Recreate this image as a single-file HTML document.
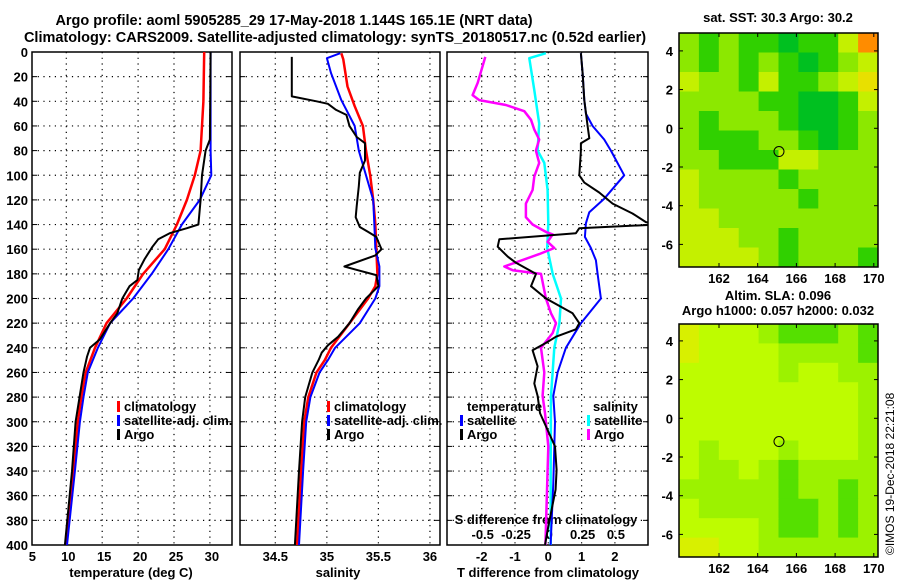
<!DOCTYPE html>
<html><head><meta charset="utf-8"><title>Argo profile</title>
<style>
html,body{margin:0;padding:0;background:#fff;}
svg{display:block;font-family:"Liberation Sans",Arial,sans-serif;font-weight:bold;}
text{font-size:13px;fill:#000;}
</style></head>
<body>
<svg id="chart" width="900" height="580" viewBox="0 0 900 580" xmlns="http://www.w3.org/2000/svg">
<text x="294" y="25" text-anchor="middle" style="font-size:14.5px">Argo profile: aoml 5905285_29 17-May-2018 1.144S 165.1E (NRT data)</text>
<text x="335" y="42" text-anchor="middle" style="font-size:14.5px">Climatology: CARS2009. Satellite-adjusted climatology: synTS_20180517.nc (0.52d earlier)</text>
<text x="778" y="22" text-anchor="middle">sat. SST: 30.3 Argo: 30.2</text>
<text x="778" y="300" text-anchor="middle">Altim. SLA: 0.096</text>
<text x="778" y="315" text-anchor="middle">Argo h1000: 0.057 h2000: 0.032</text>
<text transform="translate(894,555) rotate(-90)" style="font-weight:normal;font-size:12px">©IMOS 19-Dec-2018 22:21:08</text>
<g id="layer"></g>
</svg>
<script>
// ---- temperature panel data ----
const tDepthClim = [0,40,80,100,120,140,160,180,200,220,240,260,280,300,340,400];
const tClim      = [29.2,29.1,28.7,27.9,26.8,25.4,23.7,20.7,18.4,15.6,14.0,12.7,12.1,11.6,11.0,10.0];
const tDepthSat  = [0,80,100,120,140,160,180,200,220,240,260,280,300,340,400];
const tSat       = [30.1,30.1,30.2,28.6,26.1,24.2,21.9,19.3,16.1,14.4,13.0,12.4,11.9,11.2,10.1];
const tDepthArgo = [0,71,80,100,120,140,143,147,152,158,168,177,185,190,200,212,220,233,240,247,260,300,340,400];
const tArgo      = [30.1,30.0,29.4,28.9,28.7,28.4,26.8,24.4,22.8,22.0,20.9,20.1,19.9,18.8,17.8,17.1,16.1,14.7,13.3,12.9,12.4,11.3,10.8,9.8];
// ---- salinity panel data ----
const sDepthClim = [1,6,28,44,60,80,100,120,139,159,180,190,200,220,240,250,260,280,300,340,400];
const sClim      = [35.14,35.16,35.20,35.27,35.35,35.38,35.42,35.45,35.47,35.48,35.49,35.47,35.40,35.22,35.04,34.98,34.90,34.82,34.78,34.75,34.71];
const sDepthSat  = [1,5,17,39,60,80,100,120,139,159,174,190,200,220,240,250,260,280,300,340,400];
const sSat       = [35.13,35.00,35.04,35.14,35.27,35.31,35.38,35.45,35.46,35.47,35.51,35.51,35.47,35.32,35.08,35.01,34.93,34.84,34.80,34.77,34.73];
const sDepthArgo = [4,36,40,42,47,51,60,69,74,88,98,109,125,134,142,146,150,160,165,174,177,181,190,200,209,220,231,238,244,250,260,280,300,340,400];
const sArgo      = [34.66,34.66,34.90,35.01,35.09,35.19,35.22,35.29,35.37,35.37,35.32,35.31,35.29,35.28,35.32,35.40,35.48,35.53,35.47,35.17,35.30,35.48,35.50,35.38,35.30,35.22,35.11,35.01,34.95,34.92,34.86,34.79,34.76,34.73,34.69];
// ---- difference panel data (T diff in deg C; S diff values in psu) ----
const dDepthTSat = [1,17,39,50,60,71,80,100,119,130,139,150,159,169,180,200,220,240,260,279,300,350,400];
const dTSat      = [0.98,1.03,1.08,1.13,1.33,1.68,1.88,2.28,1.68,1.23,1.13,1.10,1.28,1.43,1.48,1.58,0.98,0.53,0.28,0.15,0.20,0.15,0.07];
const dDepthTArgo = [1,17,39,60,70,74,80,100,106,114,123,131,138,140,143,147,152,158,166,171,180,190,200,212,220,225,231,236,242,255,269,279,293,320,339,355,385,400];
const dTArgo      = [0.98,1.03,1.08,1.18,1.23,0.98,0.98,0.93,1.08,1.53,1.93,2.53,2.93,3.3,0.93,0.83,-1.47,-1.52,-1.22,-0.97,-0.37,-0.52,-0.07,0.73,0.93,0.83,0.23,-0.07,-0.47,-0.32,-0.42,-0.32,-0.25,0.20,0.25,0.22,0.0,-0.1];
const dDepthSSat = [1,5,31,58,80,90,112,139,159,180,200,220,240,279,330,400];
const dSSat      = [-0.018,-0.143,-0.105,-0.068,-0.080,-0.030,-0.005,0.0,-0.008,0.033,0.095,0.083,0.045,0.020,0.018,0.018];
const dDepthSArgo = [4,25,35,39,43,48,55,63,71,80,90,101,112,123,134,140,146,148,154,159,164,174,177,180,200,212,220,228,240,260,279,293,320,400];
const dSArgo      = [-0.473,-0.530,-0.568,-0.518,-0.318,-0.180,-0.130,-0.105,-0.068,-0.093,-0.068,-0.105,-0.118,-0.168,-0.168,-0.118,-0.018,0.033,-0.005,0.045,-0.068,-0.330,-0.268,-0.055,-0.018,0.020,0.058,0.033,-0.055,-0.030,-0.043,-0.025,0.0,-0.022];
// ---- tick labels ----
const depthTicks = [0,20,40,60,80,100,120,140,160,180,200,220,240,260,280,300,320,340,360,380,400];
const tempTicks = [5,10,15,20,25,30];
const salTicks = [34.5,35,35.5,36];
const salTickLabels = ["34.5","35","35.5","36"];
const tdiffTicks = [-2,-1,0,1,2];
const sdiffTicks = [-0.5,-0.25,0,0.25,0.5];
const sdiffTickLabels = ["-0.5","-0.25","0","0.25","0.5"];
const lonTicks = [162,164,166,168,170];
const latTicks = [4,2,0,-2,-4,-6];
const argoLon = 165.1, argoLat = -1.2;
// ---- map level grids (10 cols x 12 rows, lon 160.2-170.2, lat 4.9 to -7.2) ----
const sstLevels = [
 "2121101135","2121210123","3221311234","2222110013","2122210012","2111221012",
 "2211133222","3222212222","3222221222","3322222222","3332212222","3333212221"];
const slaLevels = [
 "4333211121","4333322221","3333323322","3333333332","3333333332","3333333332",
 "3233323332","3223212222","2222212212","3222211212","3333211212","4433222222"];
const sstColors = ["#00c020","#30d000","#8ce800","#c4f000","#e8e000","#ff8c00"];
const slaColors = ["#10d000","#55e000","#9cf200","#befc00","#d8f000"];

const NS="http://www.w3.org/2000/svg";
const layer=document.getElementById('layer');
function mk(tag,attrs,parent){const e=document.createElementNS(NS,tag);for(const k in attrs)e.setAttribute(k,attrs[k]);(parent||layer).appendChild(e);return e;}
const Y0=52, Y1=545;
function yDepth(d){return Y0+(d/400)*(Y1-Y0);}
const xTemp=v=>30.4+(v-5)*7.18;
const xSal=v=>275.3+(v-34.5)*103.1;
const xTd=v=>548.3+v*33.3;
const xSd=v=>548.3+v*4*33.3;
const panels=[{x0:32,x1:232,name:'temperature-panel'},{x0:240,x1:440,name:'salinity-panel'},{x0:447,x1:648,name:'difference-panel'}];

const defs=mk('defs',{});
panels.forEach((p,i)=>{const c=mk('clipPath',{id:'clip'+i},defs);mk('rect',{x:p.x0,y:Y0,width:p.x1-p.x0,height:Y1-Y0},c);});

function grid(p,xs,g){
  depthTicks.forEach(d=>{if(d>0&&d<400){const l=mk('line',{x1:p.x0,x2:p.x1,y1:yDepth(d),y2:yDepth(d),stroke:'#000','stroke-width':1.2,'stroke-dasharray':'1.2,4.5'},g);
    }
    mk('line',{x1:p.x0,x2:p.x0+5,y1:yDepth(d),y2:yDepth(d),stroke:'#000'},g);
    mk('line',{x1:p.x1-5,x2:p.x1,y1:yDepth(d),y2:yDepth(d),stroke:'#000'},g);});
  xs.forEach(x=>{const l=mk('line',{x1:x,x2:x,y1:Y0,y2:Y1,stroke:'#000','stroke-width':1.2,'stroke-dasharray':'1.2,4.5'},g);
    });
}
function line(xs,ds,fx,color,w,name,ci){
  const pts=xs.map((v,i)=>fx(v).toFixed(1)+','+yDepth(ds[i]).toFixed(1)).join(' ');
  const pl=mk('polyline',{points:pts,fill:'none',stroke:color,'stroke-width':w,'clip-path':'url(#clip'+ci+')','stroke-linejoin':'round'});
  
  
}
function txt(s,x,y,anchor,g,name){const t=mk('text',{x:x,y:y,'text-anchor':anchor||'start'},g);t.textContent=s;
  return t;}
function legend(x,y,color,label,g){mk('rect',{x:x,y:y-10,width:3,height:11,fill:color},g);txt(label,x+7,y,'start',g,'legend-entry');}

// Panel 1
let g=mk('g',{});
grid(panels[0],tempTicks.slice(1).map(xTemp),g);
depthTicks.forEach(d=>txt(String(d),28,yDepth(d)+5,'end',g,'depth-tick-label'));
tempTicks.forEach(v=>txt(String(v),xTemp(v)+2,561,'middle',g,'temp-tick-label'));
txt('temperature (deg C)',131,577,'middle',g,'x-axis-title');
line(tClim,tDepthClim,xTemp,'#f00',2.5,'temp-climatology-line',0);
line(tSat,tDepthSat,xTemp,'#00f',2,'temp-satellite-line',0);
line(tArgo,tDepthArgo,xTemp,'#000',2,'temp-argo-line',0);
legend(117,411,'#f00','climatology',g);legend(117,425,'#00f','satellite-adj. clim.',g);legend(117,439,'#000','Argo',g);
mk('rect',{x:32,y:Y0,width:200,height:Y1-Y0,fill:'none',stroke:'#000','stroke-width':1.5},g);

// Panel 2
g=mk('g',{});
grid(panels[1],salTicks.map(xSal),g);
salTicks.forEach((v,i)=>txt(salTickLabels[i],xSal(v),561,'middle',g,'sal-tick-label'));
txt('salinity',338,577,'middle',g,'x-axis-title');
line(sClim,sDepthClim,xSal,'#f00',2.5,'sal-climatology-line',1);
line(sSat,sDepthSat,xSal,'#00f',2,'sal-satellite-line',1);
line(sArgo,sDepthArgo,xSal,'#000',2,'sal-argo-line',1);
legend(327,411,'#f00','climatology',g);legend(327,425,'#00f','satellite-adj. clim.',g);legend(327,439,'#000','Argo',g);
mk('rect',{x:240,y:Y0,width:200,height:Y1-Y0,fill:'none',stroke:'#000','stroke-width':1.5},g);

// Panel 3
g=mk('g',{});
grid(panels[2],tdiffTicks.map(xTd),g);
tdiffTicks.forEach(v=>txt(String(v),xTd(v),561,'middle',g,'tdiff-tick-label'));
txt('T difference from climatology',548,577,'middle',g,'x-axis-title');
line(dSSat,dDepthSSat,xSd,'#0ff',2.5,'sdiff-satellite-line',2);
line(dSArgo,dDepthSArgo,xSd,'#f0f',2.5,'sdiff-argo-line',2);
line(dTSat,dDepthTSat,xTd,'#00f',2,'tdiff-satellite-line',2);
line(dTArgo,dDepthTArgo,xTd,'#000',2,'tdiff-argo-line',2);
txt('temperature',467,411,'start',g,'legend-title');txt('salinity',593,411,'start',g,'legend-title');
legend(460,425,'#00f','satellite',g);legend(460,439,'#000','Argo',g);
legend(587,425,'#0ff','satellite',g);legend(587,439,'#f0f','Argo',g);
txt('S difference from climatology',546,524,'middle',g,'sdiff-axis-title');
sdiffTicks.forEach((v,i)=>txt(sdiffTickLabels[i],xSd(v)+1,539,'middle',g,'sdiff-tick-label'));
mk('rect',{x:447,y:Y0,width:201,height:Y1-Y0,fill:'none',stroke:'#000','stroke-width':1.5},g);

// Maps
const xLon=v=>680.3+(v-160)*19.35;
function map(top,bottom,lat0y,levels,colors,name){
  const mg=mk('g',{});
  const yLat=v=>lat0y-v*19.35;
  const x0=679,x1=878,rows=levels.length,cols=levels[0].length;
  const cw=(x1-x0)/cols,ch=(bottom-top)/rows;
  levels.forEach((row,r)=>{for(let c=0;c<cols;c++){
    const cell=mk('rect',{x:x0+c*cw,y:top+r*ch,width:cw+0.5,height:ch+0.5,fill:colors[+row[c]]},mg);
    }});
  mk('rect',{x:x0,y:top,width:x1-x0,height:bottom-top,fill:'none',stroke:'#000','stroke-width':1.5},mg);
  lonTicks.forEach(v=>{mk('line',{x1:xLon(v),x2:xLon(v),y1:bottom,y2:bottom-4,stroke:'#000'},mg);
    mk('line',{x1:xLon(v),x2:xLon(v),y1:top,y2:top+4,stroke:'#000'},mg);
    txt(String(v),xLon(v),bottom+16,'middle',mg,'lon-tick-label');});
  latTicks.forEach(v=>{const y=yLat(v);mk('line',{x1:x0,x2:x0+4,y1:y,y2:y,stroke:'#000'},mg);
    mk('line',{x1:x1-4,x2:x1,y1:y,y2:y,stroke:'#000'},mg);
    txt(String(v),673,y+5,'end',mg,'lat-tick-label');});
  const m=mk('circle',{cx:xLon(argoLon),cy:yLat(argoLat),r:5,fill:'none',stroke:'#000','stroke-width':1},mg);
  
}
map(33,267,128.3,sstLevels,sstColors,'sst-map');
map(324,557,418.3,slaLevels,slaColors,'sla-map');
</script>
</body></html>
